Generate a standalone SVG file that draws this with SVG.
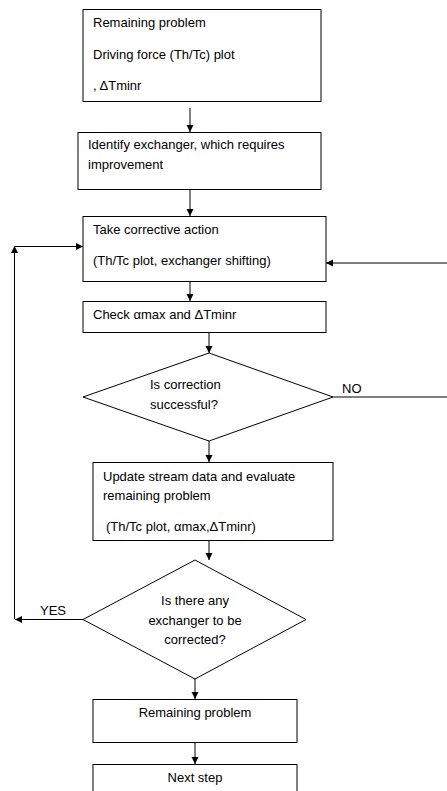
<svg xmlns="http://www.w3.org/2000/svg" width="447" height="791" viewBox="0 0 447 791">
<style>
.box{fill:#fff;stroke:#000;stroke-width:1}
.t{font-family:"Liberation Sans",Arial,sans-serif;font-size:13px;fill:#000}
.c{text-anchor:middle}
.ln{stroke:#000;stroke-width:1;fill:none}
.ar{marker-end:url(#ah)}
</style>
<defs>
<marker id="ah" markerUnits="userSpaceOnUse" markerWidth="8" markerHeight="8" refX="7" refY="3.5" orient="auto">
<path d="M0,0 L7,3.5 L0,7 z" fill="#000"/>
</marker>
</defs>
<rect width="447" height="791" fill="#fff"/>
<g id="n1">
<rect class="box" x="83" y="9.5" width="238" height="92"/>
<text class="t" x="93" y="27">Remaining problem</text>
<text class="t" x="93" y="59">Driving force (Th/Tc) plot</text>
<text class="t" x="93" y="90">, ΔTminr</text>
</g>
<g id="n2">
<rect class="box" x="78" y="132.5" width="243" height="57"/>
<text class="t" x="88" y="149">Identify exchanger, which requires</text>
<text class="t" x="88" y="169">improvement</text>
</g>
<g id="n3">
<rect class="box" x="83" y="216.5" width="243" height="65"/>
<text class="t" x="93" y="234">Take corrective action</text>
<text class="t" x="93" y="265">(Th/Tc plot, exchanger shifting)</text>
</g>
<g id="n4">
<rect class="box" x="83" y="301.5" width="243" height="31"/>
<text class="t" x="93" y="319">Check αmax and ΔTminr</text>
</g>
<g id="n5">
<polygon class="box" points="209,353 333,397 209,441 83,397"/>
<text class="t" x="150" y="389">Is correction</text>
<text class="t" x="150" y="409">successful?</text>
</g>
<g id="n6">
<rect class="box" x="93" y="462.5" width="240" height="78"/>
<text class="t" x="103" y="481">Update stream data and evaluate</text>
<text class="t" x="103" y="500">remaining problem</text>
<text class="t" x="106" y="531">(Th/Tc plot, αmax,ΔTminr)</text>
</g>
<g id="n7">
<polygon class="box" points="195,560 306,619.5 195,679 83,619.5"/>
<text class="t c" x="195" y="605">Is there any</text>
<text class="t c" x="195" y="625">exchanger to be</text>
<text class="t c" x="195" y="644">corrected?</text>
</g>
<g id="n8">
<rect class="box" x="93" y="699.5" width="204" height="43"/>
<text class="t c" x="195" y="717">Remaining problem</text>
</g>
<g id="n9">
<rect class="box" x="93" y="764.5" width="204" height="40"/>
<text class="t c" x="195" y="782">Next step</text>
</g>
<g id="connectors">
<line class="ln ar" x1="190" y1="108" x2="190" y2="132"/>
<line class="ln ar" x1="190" y1="190" x2="190" y2="216"/>
<line class="ln ar" x1="190" y1="282" x2="190" y2="301"/>
<line class="ln ar" x1="209" y1="333" x2="209" y2="353"/>
<line class="ln ar" x1="209" y1="441" x2="209" y2="462"/>
<line class="ln ar" x1="209" y1="541" x2="209" y2="560"/>
<line class="ln ar" x1="195" y1="679" x2="195" y2="699"/>
<line class="ln ar" x1="195" y1="743" x2="195" y2="764"/>
<line class="ln" x1="333" y1="397" x2="447" y2="397"/>
<line class="ln ar" x1="447" y1="263" x2="326" y2="263"/>
<text class="t" x="342" y="393">NO</text>
<line class="ln ar" x1="83" y1="619.5" x2="15" y2="619.5"/>
<line class="ln ar" x1="14.5" y1="619" x2="14.5" y2="246"/>
<line class="ln ar" x1="15" y1="246.5" x2="83" y2="246.5"/>
<text class="t" x="40" y="615">YES</text>
</g>
</svg>
